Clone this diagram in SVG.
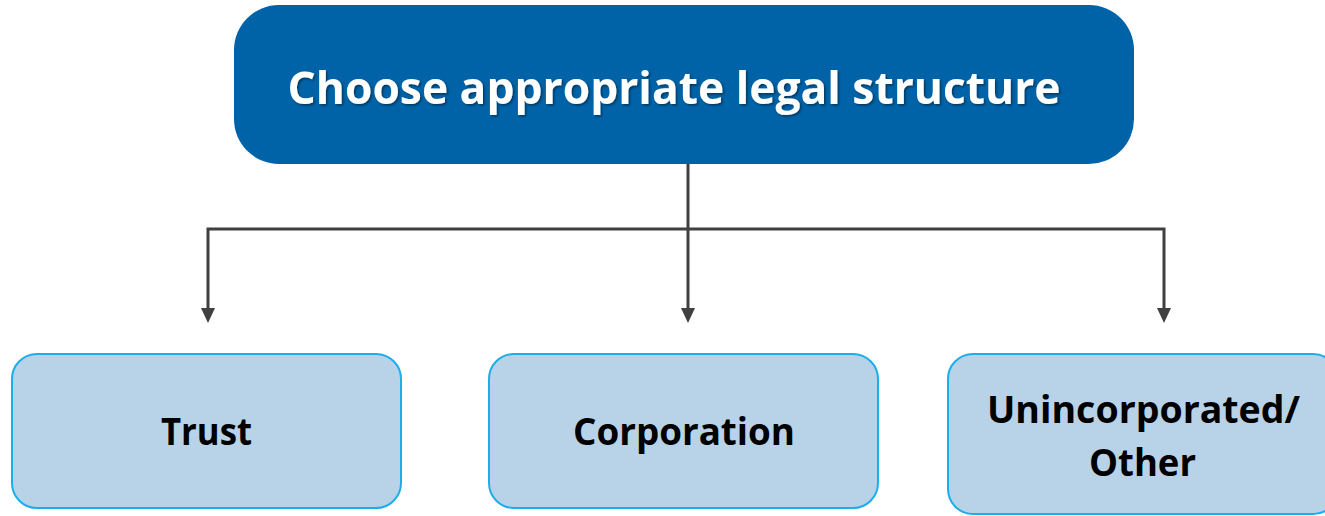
<svg xmlns="http://www.w3.org/2000/svg" width="1325" height="516" viewBox="0 0 1325 516">
  <style>
    .head { fill: #0063A8; }
    .head-text { font-family: "Open Sans", "Liberation Sans", sans-serif; font-weight: 700; font-size: 44px; fill: #ffffff; text-anchor: middle; }
    .opt { fill: #B8D3E8; stroke: #1CADEB; stroke-width: 2; }
    .opt-text { font-family: "Open Sans", "Liberation Sans", sans-serif; font-weight: 700; font-size: 37px; fill: #000000; text-anchor: middle; }
    .wire { fill: none; stroke: #404040; stroke-width: 3; }
    .tip { fill: #404040; }
  </style>
  <defs>
    <filter id="shadow" x="-10%" y="-30%" width="120%" height="160%">
      <feDropShadow dx="1.5" dy="1.5" stdDeviation="1" flood-color="#000000" flood-opacity="0.45"/>
    </filter>
  </defs>

  <g id="connectors">
    <line class="wire" x1="688" y1="164" x2="688" y2="308"/>
    <path class="wire" d="M208,308 V229 H1164 V308"/>
    <path class="tip" d="M681,308 L695,308 L688,323 Z"/>
    <path class="tip" d="M201,308 L215,308 L208,323 Z"/>
    <path class="tip" d="M1157,308 L1171,308 L1164,323 Z"/>
  </g>

  <g id="legal-structure">
    <rect class="head" x="234" y="5" width="900" height="159" rx="45" ry="45"/>
    <text class="head-text" x="674" y="104" filter="url(#shadow)" textLength="773" lengthAdjust="spacingAndGlyphs">Choose appropriate legal structure</text>
  </g>

  <g id="trust">
    <rect class="opt" x="12" y="354" width="389" height="154" rx="25" ry="25"/>
    <text class="opt-text" x="206.5" y="445" textLength="91" lengthAdjust="spacingAndGlyphs">Trust</text>
  </g>

  <g id="corporation">
    <rect class="opt" x="489" y="354" width="389" height="154" rx="25" ry="25"/>
    <text class="opt-text" x="684" y="445" textLength="222" lengthAdjust="spacingAndGlyphs">Corporation</text>
  </g>

  <g id="unincorporated">
    <rect class="opt" x="948" y="354" width="390" height="160" rx="25" ry="25"/>
    <text class="opt-text" x="1143.5" y="423" textLength="313" lengthAdjust="spacingAndGlyphs">Unincorporated/</text>
    <text class="opt-text" x="1142.5" y="476" textLength="107" lengthAdjust="spacingAndGlyphs">Other</text>
  </g>
</svg>
